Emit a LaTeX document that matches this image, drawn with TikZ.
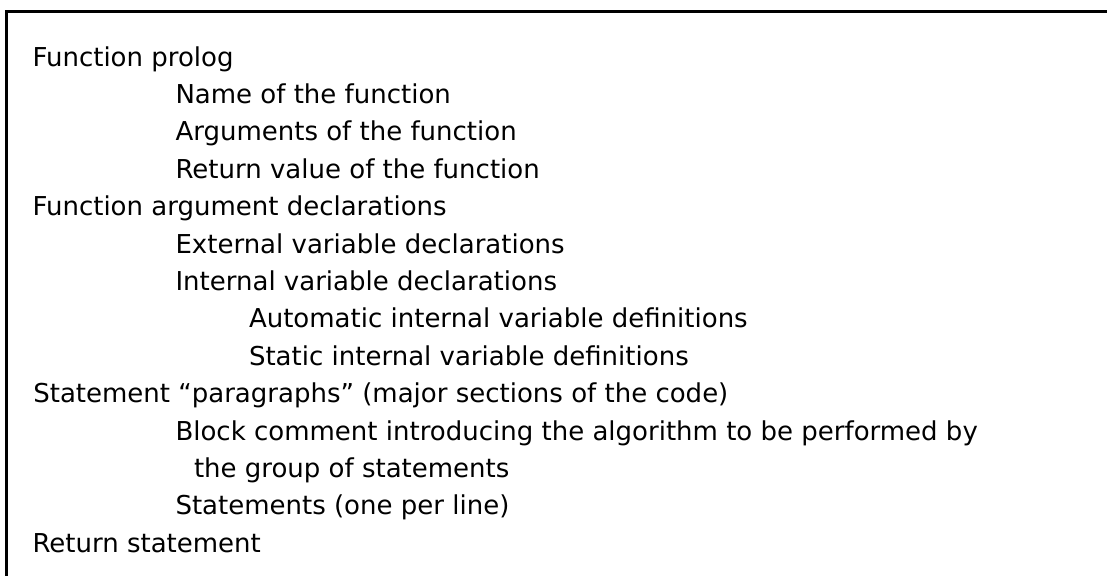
\documentclass[tikz,border=0pt]{standalone}
\usepackage{fontspec}
\setmainfont{DejaVu Sans}
\begin{document}
\begin{tikzpicture}[x=1pt,y=-1pt,
  line/.style={inner sep=0pt,outer sep=0pt,anchor=base west,
    font=\fontsize{26pt}{31pt}\selectfont},
  frameedge/.style={line width=3pt,black}]
\useasboundingbox (0,0) rectangle (1107,576);
\fill[white] (0,0) rectangle (1107,576);
% open frame: top and left edges only
\coordinate (tl) at (6.5,11.3);
\coordinate (tr) at (1107,11.3);
\coordinate (bl) at (6.5,576);
\draw[frameedge] (tr) -- (tl) -- (bl);
% outline of the function layout
\def\lh{37.4}
\node[line] (l0)  at (32.5, 66+0*\lh)  {Function prolog};
\node[line] (l1)  at (175.5,66+1*\lh)  {Name of the function};
\node[line] (l2)  at (175.5,66+2*\lh)  {Arguments of the function};
\node[line] (l3)  at (175.5,66+3*\lh)  {Return value of the function};
\node[line] (l4)  at (32.5, 66+4*\lh)  {Function argument declarations};
\node[line] (l5)  at (175.5,66+5*\lh)  {External variable declarations};
\node[line] (l6)  at (175.5,66+6*\lh)  {Internal variable declarations};
\node[line] (l7)  at (249,  66+7*\lh)  {Automatic internal variable definitions};
\node[line] (l8)  at (249,  66+8*\lh)  {Static internal variable definitions};
\node[line] (l9)  at (33.3, 66+9*\lh)  {Statement “paragraphs” (major sections of the code)};
\node[line] (l10) at (175.5,66+10*\lh) {Block comment introducing the algorithm to be performed by};
\node[line] (l11) at (194,  66+11*\lh) {the group of statements};
\node[line] (l12) at (175.5,66+12*\lh) {Statements (one per line)};
\node[line] (l13) at (32.5, 66+13*\lh) {Return statement};
\end{tikzpicture}
\end{document}
